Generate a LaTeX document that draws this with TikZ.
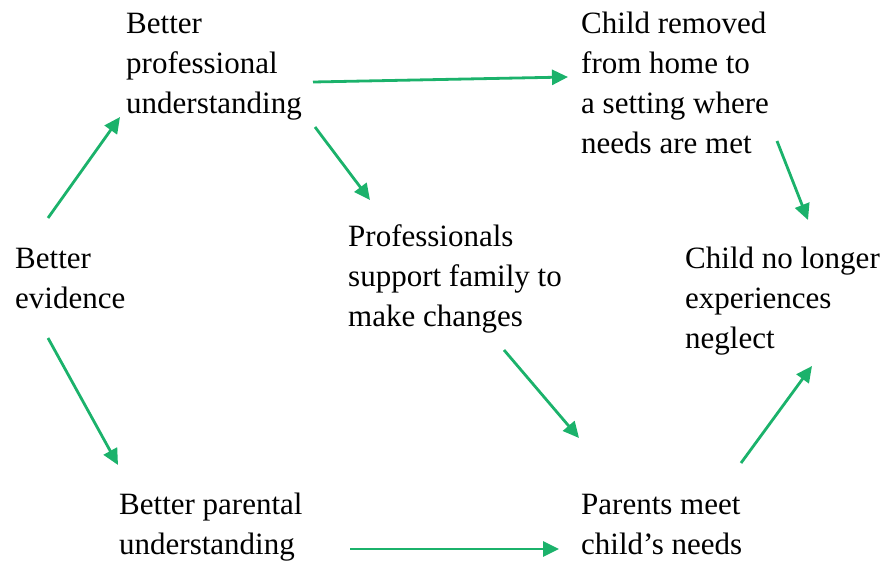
\documentclass[tikz,border=0pt]{standalone}
\usepackage{fontspec}
\setmainfont{Liberation Serif}
\usetikzlibrary{arrows.meta,positioning}
\definecolor{arrowgreen}{HTML}{1BB26B}

\begin{document}
\begin{tikzpicture}[
    x=1pt, y=-1pt,
    box/.style={anchor=base west, inner sep=0pt, align=left, font=\fontsize{31}{40}\selectfont},
    uni/.style={-{Triangle[length=16pt, width=15pt]}, line width=2.8pt, arrowgreen}
]
    \useasboundingbox (0,0) rectangle (896,568);

    % Boxes (placed by the baseline of their last line)
    \node[box] (evid)     at (15,308)  {Better\\evidence};
    \node[box] (prof)     at (126,113) {Better\\professional\\understanding};
    \node[box] (removed)  at (581,153) {Child removed\\from home to\\a setting where\\needs are met};
    \node[box] (support)  at (348,326) {Professionals\\support family to\\make changes};
    \node[box] (neglect)  at (685,348) {Child no longer\\experiences\\neglect};
    \node[box] (parental) at (119,554) {Better parental\\understanding};
    \node[box] (meet)     at (581,554) {Parents meet\\child’s needs};

    % Arrows
    \draw[uni] ([shift={(33,-90)}]evid.base west)    -- ([shift={(-6,4)}]prof.base west);
    \draw[uni] ([shift={(187,-31)}]prof.base west)   -- ([shift={(-13,-76)}]removed.base west);
    \draw[uni] ([shift={(189,14)}]prof.base west)    -- ([shift={(22,-126)}]support.base west);
    \draw[uni] ([shift={(196,-12)}]removed.base west) -- ([shift={(123,-128)}]neglect.base west);
    \draw[uni] ([shift={(33,30)}]evid.base west)     -- ([shift={(-1,-89)}]parental.base west);
    \draw[uni] ([shift={(156,24)}]support.base west) -- ([shift={(-2,-116)}]meet.base west);
    \draw[uni] ([shift={(231,-5)}]parental.base west) -- ([shift={(-22,-5)}]meet.base west);
    \draw[uni] ([shift={(160,-91)}]meet.base west)   -- ([shift={(127,18)}]neglect.base west);
\end{tikzpicture}
\end{document}
